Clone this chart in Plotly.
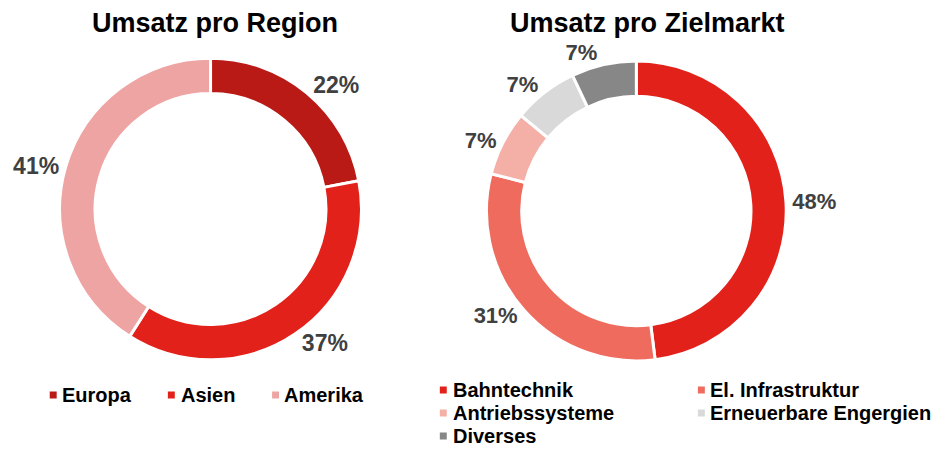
import plotly.graph_objects as go

# ---- data ----
region_labels = ["Europa", "Asien", "Amerika"]
region_values = [22, 37, 41]
region_colors = ["#BA1A16", "#E3211B", "#EFA4A4"]

market_labels = ["Bahntechnik", "El. Infrastruktur", "Antriebssysteme",
                 "Erneuerbare Engergien", "Diverses"]
market_values = [48, 31, 7, 7, 7]
market_colors = ["#E3211B", "#EE6B5E", "#F4B0A6", "#D9D9D9", "#878787"]

titles = ["Umsatz pro Region", "Umsatz pro Zielmarkt"]

OFF = 8  # page body margin
W, H = 950 - OFF, 451 - OFF
FONT = "Liberation Sans, Arial, sans-serif"


def px(x):
    return (x - OFF) / W


def py(y):
    return 1 - (y - OFF) / H


fig = go.Figure()

fig.add_trace(go.Pie(
    labels=region_labels, values=region_values,
    marker=dict(colors=region_colors, line=dict(color="white", width=3)),
    hole=0.765, sort=False, direction="clockwise", rotation=0,
    domain=dict(x=[px(53), px(357)], y=[py(361), py(57)]),
    textposition="outside", texttemplate="%{value}%",
    outsidetextfont=dict(family=FONT, size=23, color="#404040", weight="bold"),
    showlegend=False, hoverinfo="label+percent",
))

fig.add_trace(go.Pie(
    labels=market_labels, values=market_values,
    marker=dict(colors=market_colors, line=dict(color="white", width=3)),
    hole=0.765, sort=False, direction="clockwise", rotation=0,
    domain=dict(x=[px(483), px(785)], y=[py(362), py(60)]),
    textposition="outside", texttemplate="%{value}%",
    outsidetextfont=dict(family=FONT, size=22, color="#404040", weight="bold"),
    showlegend=False, hoverinfo="label+percent",
))

annotations = []
shapes = []

# titles
for t, cx in zip(titles, [210, 645]):
    annotations.append(dict(
        text=f"<b>{t}</b>", x=px(cx), y=py(23), xref="paper", yref="paper",
        xanchor="center", yanchor="middle", showarrow=False, borderpad=0,
        font=dict(family=FONT, size=27, color="#000000")))

# custom legends
left_pos = [(43, 53, 395), (162, 173, 395), (267, 277, 395)]
right_pos = [(436, 447, 390), (696, 706, 390), (436, 447, 413),
             (696, 706, 413), (436, 447, 436)]

for labels, colors, pos in [(region_labels, region_colors, left_pos),
                            (market_labels, market_colors, right_pos)]:
    for lab, col, (mx, tx, cy) in zip(labels, colors, pos):
        shapes.append(dict(type="rect", xref="paper", yref="paper",
                           x0=px(mx), x1=px(mx + 7), y0=py(cy + 3.5), y1=py(cy - 3.5),
                           fillcolor=col, line=dict(width=0)))
        annotations.append(dict(
            text=f"<b>{lab}</b>", x=px(tx), y=py(cy), xref="paper", yref="paper",
            xanchor="left", yanchor="middle", showarrow=False,
            font=dict(family=FONT, size=20, color="#000000")))

fig.update_layout(
    width=W, height=H,
    margin=dict(l=0, r=0, t=0, b=0),
    paper_bgcolor="white", plot_bgcolor="white",
    annotations=annotations, shapes=shapes,
    font=dict(family=FONT),
)

fig.write_html("out.html")
